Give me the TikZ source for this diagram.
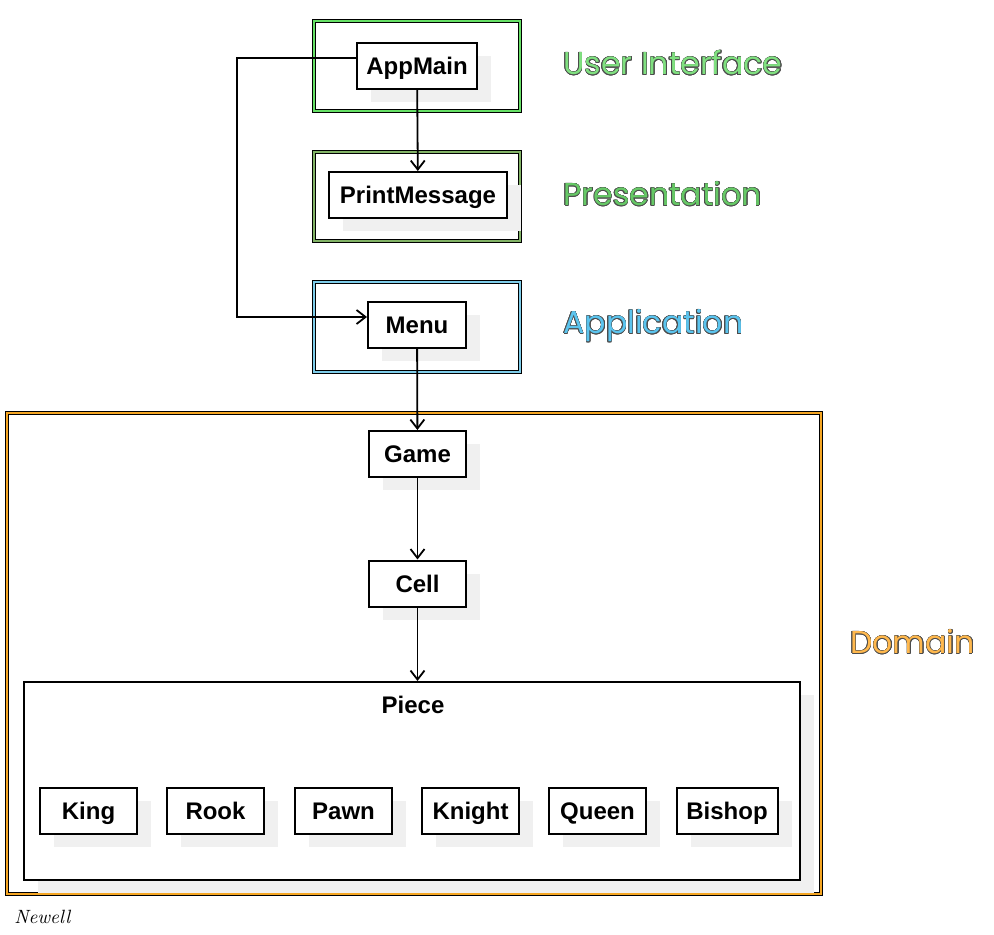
\documentclass[tikz,border=0pt]{standalone}
\usepackage{fontspec}
\usepackage{contour}
\usetikzlibrary{arrows.meta,shadows}
\newfontfamily\boxfont{Liberation Sans}
\newfontfamily\layerfont{Poppins}
\definecolor{uifill}{HTML}{80E080}
\definecolor{uiline}{HTML}{66E066}
\definecolor{presfill}{HTML}{66C866}
\definecolor{presline}{HTML}{82B366}
\definecolor{appfill}{HTML}{5BC4EE}
\definecolor{appline}{HTML}{7ECDEA}
\definecolor{domfill}{HTML}{FFB84D}
\definecolor{domline}{HTML}{F5A623}
\definecolor{shadowgray}{HTML}{F0F0F0}
\contourlength{0.25pt}
\newcommand{\layertext}[2]{\layerfont\fontsize{15.8}{18}\selectfont\contour{black!70}{\textcolor{#1}{#2}}}
\begin{document}
\begin{tikzpicture}[x=0.5pt, y=-0.5pt]
        \tikzstyle{classbox}=[draw, line width=1pt, fill=white, minimum height=23pt,
          inner sep=0pt, text height=8.6pt, text depth=0pt,
          font=\boxfont\bfseries\fontsize{12}{14}\selectfont,
          drop shadow={shadow xshift=7pt, shadow yshift=-6.5pt, fill=shadowgray, opacity=1}]
        \tikzstyle{layerbox}=[draw=black, line width=0.6pt, double distance=0.9pt, inner sep=0pt]
        \tikzstyle{arr}=[line width=0.9pt, -{Straight Barb[length=4.5pt, width=7pt]}]
        \useasboundingbox (0, 0) rectangle (994, 935);

        % domain layer with the piece hierarchy
        \node[layerbox, double=domline, minimum width=407pt, minimum height=240.5pt] (dom) at (414, 653.5) {};
        \node[classbox, minimum width=388pt, minimum height=99pt] (piece) at (412, 781) {};
        \node[font=\boxfont\bfseries\fontsize{12}{14}\selectfont] (piecelbl) at (413, 705) {Piece};

        % the six pieces in a row
        \foreach \name/\x in {King/88.5, Rook/215.5, Pawn/343.5, Knight/470.5, Queen/597.5}
        {
          \node[classbox, minimum width=48.5pt] (\name) at (\x, 811) {\name};
        };
        \node[classbox, minimum width=50.5pt] (Bishop) at (727, 811) {Bishop};

        \node[classbox, minimum width=48.5pt] (game) at (417.5, 454) {Game};
        \node[classbox, minimum width=48.5pt] (cell) at (417.5, 583.5) {Cell};

        % upper layers
        \node[layerbox, double=uiline, minimum width=103pt, minimum height=45pt] (ui) at (417, 66) {};
        \node[layerbox, double=presline, minimum width=103pt, minimum height=44.5pt] (pres) at (417, 196.5) {};
        \node[layerbox, double=appline, minimum width=103pt, minimum height=45pt] (app) at (417, 327) {};

        \node[classbox, minimum width=60pt] (appmain) at (417, 66) {AppMain};
        \node[classbox, minimum width=89pt] (printmsg) at (418, 195) {PrintMessage};
        \node[classbox, minimum width=49pt] (menu) at (417, 325) {Menu};

        % layer names on the right
        \node[anchor=west, inner sep=0pt] (uilbl) at (563, 63) {\layertext{uifill}{User Interface}};
        \node[anchor=west, inner sep=0pt] (preslbl) at (563, 194) {\layertext{presfill}{Presentation}};
        \node[anchor=west, inner sep=0pt] (applbl) at (563, 326) {\layertext{appfill}{Application}};
        \node[anchor=west, inner sep=0pt] (domlbl) at (850, 642) {\layertext{domfill}{Domain}};

        \node[anchor=west, inner sep=0pt, font=\itshape\fontsize{9.6}{11}\selectfont] (author) at (14, 917) {Newell};

        % connectors
        \coordinate (turn) at (237, 317);
        \draw[arr] (appmain) -- (printmsg);
        \draw[arr] ([yshift=4pt]appmain.west) -| (turn) -- ([yshift=4pt]menu.west);
        \draw[arr] (menu) -- (game);
        \draw[arr] (game) -- (cell);
        \draw[arr] (cell.south) -- (cell.south |- piece.north);
    \end{tikzpicture}
\end{document}
